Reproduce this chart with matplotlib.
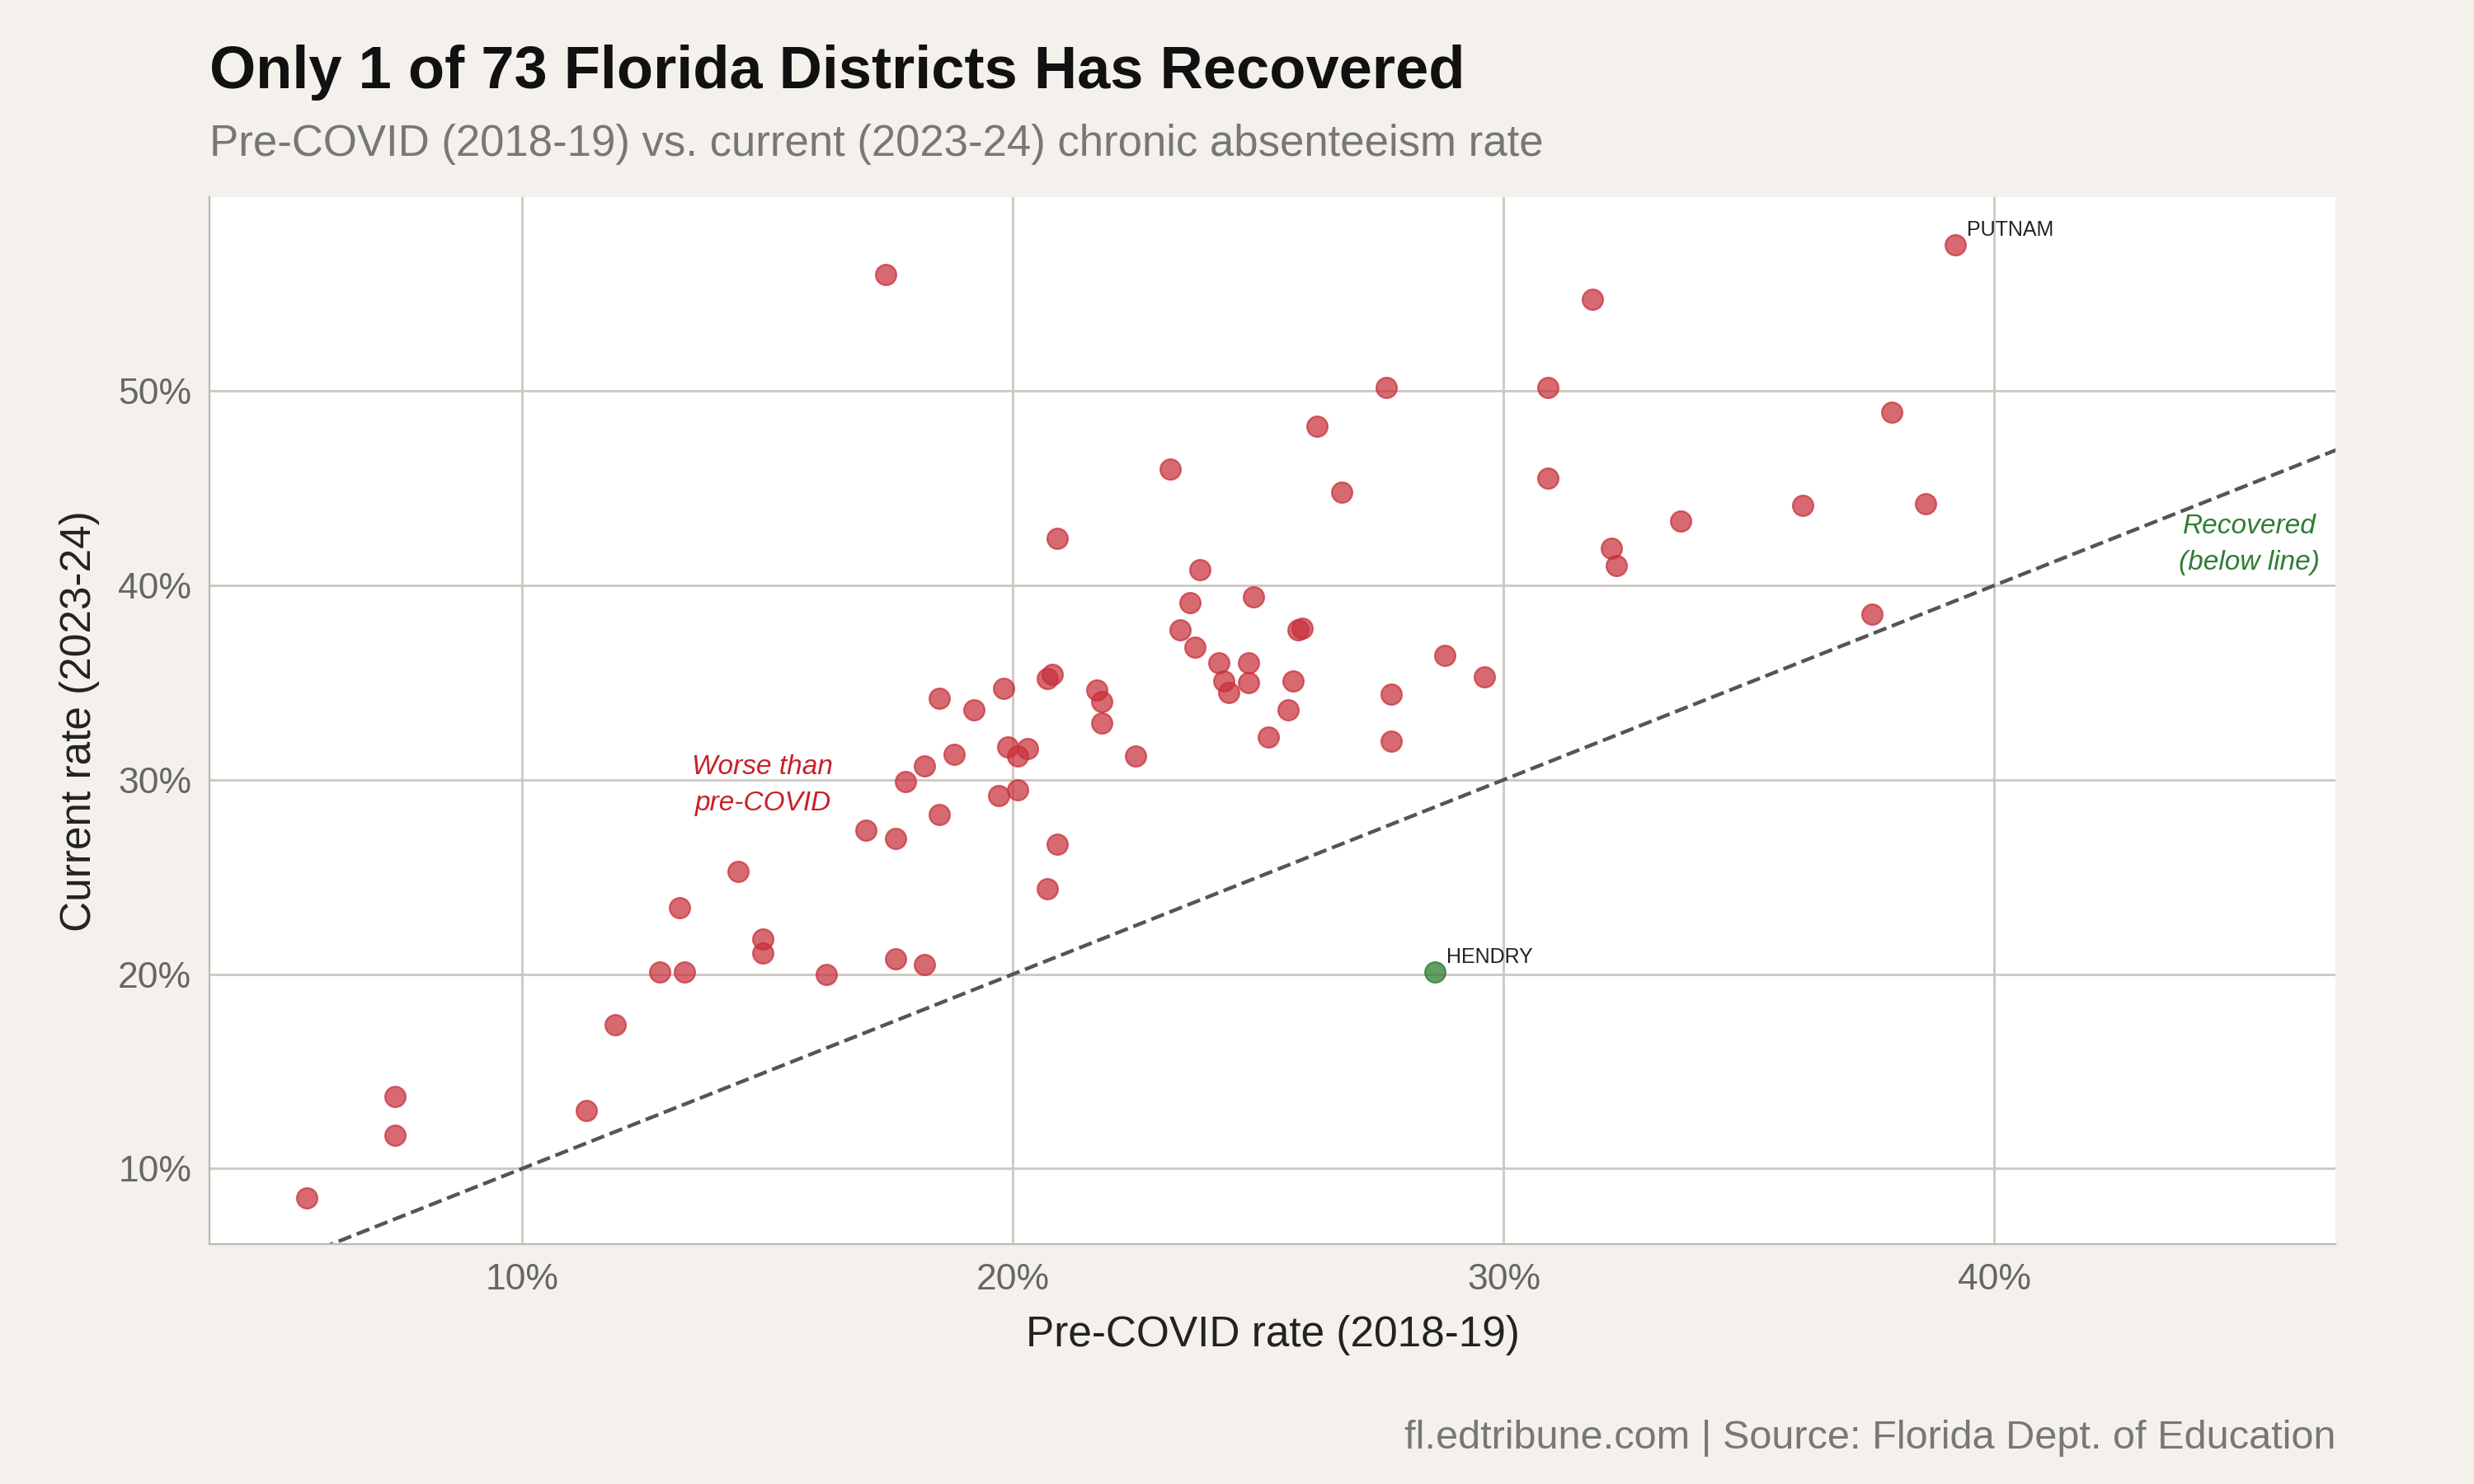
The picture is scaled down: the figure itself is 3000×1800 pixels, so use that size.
import matplotlib
matplotlib.use("Agg")
import matplotlib.pyplot as plt

plt.rcParams['font.family'] = ['Liberation Sans', 'DejaVu Sans']

pre = [5.6,7.4,7.4,11.3,11.9,12.8,13.3,13.2,14.4,14.9,14.9,16.2,17.0,17.4,17.6,17.6,17.8,18.2,18.2,18.5,
       18.5,18.8,19.2,19.7,19.8,19.9,20.1,20.1,20.3,20.7,20.7,20.8,20.9,20.9,21.7,21.8,21.8,22.5,23.2,23.4,
       23.6,23.7,23.8,24.2,24.3,24.4,24.8,24.8,24.9,25.2,25.6,25.7,25.8,25.9,26.2,26.7,27.6,27.7,27.7,28.8,
       29.6,30.9,30.9,31.8,32.2,32.3,33.6,36.1,37.5,37.9,38.6,39.2]
cur = [8.5,13.7,11.7,13.0,17.4,20.1,20.1,23.4,25.3,21.8,21.1,20.0,27.4,56.0,27.0,20.8,29.9,20.5,30.7,28.2,
       34.2,31.3,33.6,29.2,34.7,31.7,29.5,31.2,31.6,24.4,35.2,35.4,26.7,42.4,34.6,34.0,32.9,31.2,46.0,37.7,
       39.1,36.8,40.8,36.0,35.1,34.5,35.0,36.0,39.4,32.2,33.6,35.1,37.7,37.8,48.2,44.8,50.2,34.4,32.0,36.4,
       35.3,50.2,45.5,54.7,41.9,41.0,43.3,44.1,38.5,48.9,44.2,57.5]
recovered_name = "HENDRY"
recovered_pre = [28.6]
recovered_cur = [20.1]
ticks = [10, 20, 30, 40, 50]

fig = plt.figure(figsize=(15, 9), dpi=200, facecolor='#f4f1ec')
ax = fig.add_axes([0.0848, 0.1615, 0.8592, 0.7055])
ax.set_facecolor('white')
ax.set_xlim(3.63, 46.95)
ax.set_ylim(6.1, 59.96)
ax.set_xticks(ticks[:4]); ax.set_yticks(ticks)
ax.set_xticklabels([f"{t}%" for t in ticks[:4]])
ax.set_yticklabels([f"{t}%" for t in ticks])
ax.grid(True, color='#ccc8c0', linewidth=1)
ax.set_axisbelow(True)
for s in ['top', 'right']:
    ax.spines[s].set_visible(False)
for s in ['left', 'bottom']:
    ax.spines[s].set_color('#bdb8b0')
ax.tick_params(length=0, labelsize=16, labelcolor='#666666', pad=8)

ax.plot([0, 60], [0, 60], ls='--', color='#555555', lw=1.6, zorder=1)
ax.scatter(pre, cur, s=80, color='#c8303a', alpha=0.72, edgecolor='#c8303a', linewidth=0.8, zorder=3)
ax.scatter(recovered_pre, recovered_cur, s=80, color='#2e7d32', alpha=0.75, edgecolor='#2e7d32', linewidth=0.8, zorder=3)

ax.annotate("PUTNAM", (pre[-1], cur[-1]), xytext=(5, 4), textcoords='offset points', fontsize=9, color='#222222')
ax.annotate(recovered_name, (recovered_pre[0], recovered_cur[0]), xytext=(5, 4), textcoords='offset points', fontsize=9, color='#222222')

ax.text(14.9, 29.7, "Worse than\npre-COVID", color='#c8202a', fontsize=12, style='italic', ha='center', va='center', linespacing=1.55)
ax.text(45.2, 42.1, "Recovered\n(below line)", color='#2e7d32', fontsize=12, style='italic', ha='center', va='center', linespacing=1.55)

ax.set_xlabel("Pre-COVID rate (2018-19)", fontsize=18.5, color='#222222', labelpad=8)
ax.set_ylabel("Current rate (2023-24)", fontsize=18.5, color='#222222', labelpad=8)

fig.text(0.0848, 0.951, "Only 1 of 73 Florida Districts Has Recovered", fontsize=26, fontweight='bold', color='#111111', va='center')
fig.text(0.0848, 0.903, "Pre-COVID (2018-19) vs. current (2023-24) chronic absenteeism rate", fontsize=19, color='#777777', va='center')
fig.text(0.944, 0.031, "fl.edtribune.com | Source: Florida Dept. of Education", fontsize=17.5, color='#777777', ha='right', va='center')

fig.savefig("out.png", dpi=200, facecolor=fig.get_facecolor())
